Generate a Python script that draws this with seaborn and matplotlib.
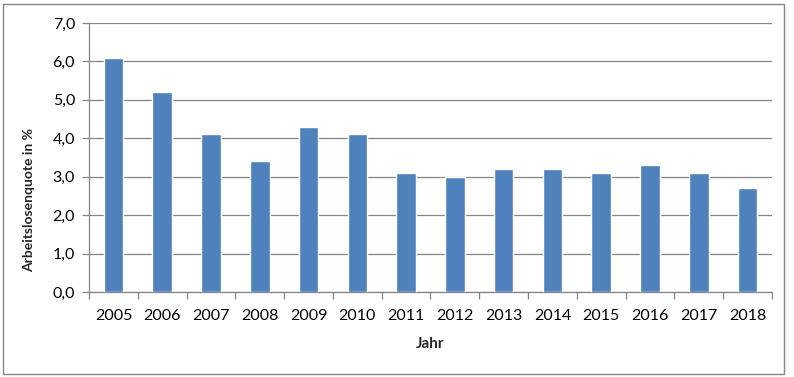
import matplotlib
matplotlib.use("Agg")
import matplotlib.pyplot as plt
import seaborn as sns
import pandas as pd
from matplotlib.patches import Rectangle
from matplotlib.ticker import FixedLocator, FuncFormatter

years = ["2005", "2006", "2007", "2008", "2009", "2010", "2011",
         "2012", "2013", "2014", "2015", "2016", "2017", "2018"]
quote = [6.1, 5.2, 4.1, 3.4, 4.3, 4.1, 3.1, 3.0, 3.2, 3.2, 3.1, 3.3, 3.1, 2.7]

df = pd.DataFrame({"Jahr": years, "Quote": quote})

sns.set_theme(style="white")
plt.rcParams["font.family"] = ["Lato", "DejaVu Sans"]

W, H = 794, 377
fig = plt.figure(figsize=(W / 100, H / 100), dpi=100)
ax = fig.add_axes([89 / W, 1 - 292 / H, (772 - 89) / W, (292 - 23) / H])

sns.barplot(data=df, x="Jahr", y="Quote", color="#4F81BD", width=0.4,
            saturation=1, ax=ax, zorder=3)

gray = "#868686"
ax.set_ylim(0, 7)
ax.set_xlim(-0.5, len(years) - 0.5)
ax.set_yticks([i for i in range(8)])
ax.yaxis.set_major_formatter(FuncFormatter(lambda v, p: f"{v:.1f}".replace(".", ",")))
ax.grid(axis="y", color=gray, linewidth=0.9, zorder=0)
ax.set_axisbelow(True)

for s in ["top", "right"]:
    ax.spines[s].set_visible(False)
for s in ["left", "bottom"]:
    ax.spines[s].set_color(gray)
    ax.spines[s].set_linewidth(0.9)

ax.xaxis.set_minor_locator(FixedLocator([i - 0.5 for i in range(len(years) + 1)]))
ax.tick_params(axis="x", which="major", length=0, pad=12, labelsize=11.5, colors="black")
ax.tick_params(axis="x", which="minor", length=5, width=0.9, color=gray, direction="out", bottom=True)
ax.tick_params(axis="y", which="major", length=5, width=0.9, color=gray, direction="out", left=True,
               pad=5, labelsize=11.5, labelcolor="black")

ax.set_xlabel("Jahr", fontsize=11, fontweight="bold", labelpad=10)
ax.set_ylabel("")
fig.text(29 / W, 1 - 200 / H, "Arbeitslosenquote in %", rotation=90,
         ha="center", va="center", fontsize=10, fontweight="bold")

fig.patches.append(Rectangle((3 / W, 1 - 374 / H), (784 - 3) / W, (374 - 4) / H,
                             transform=fig.transFigure, fill=False,
                             edgecolor=gray, linewidth=1.0))

fig.savefig("out.png", dpi=100)
